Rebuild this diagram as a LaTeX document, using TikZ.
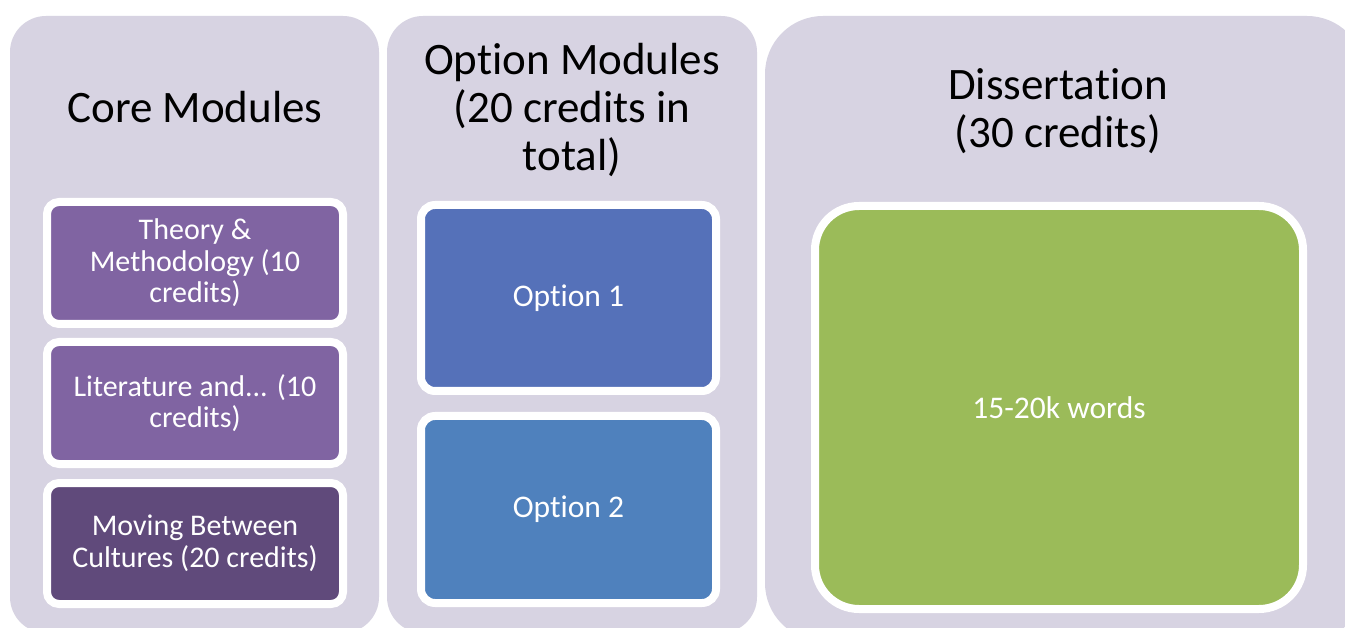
\documentclass[tikz,border=0pt]{standalone}
\usepackage{fontspec}
\setmainfont{Carlito}[Ligatures={NoCommon}]
\usetikzlibrary{shadows}
\definecolor{panelbg}{HTML}{D7D3E2}
\definecolor{purpleA}{HTML}{8064A2}
\definecolor{purpleB}{HTML}{604A7B}
\definecolor{blueA}{HTML}{5571B9}
\definecolor{blueB}{HTML}{4F81BD}
\definecolor{greenA}{HTML}{9BBB59}
\tikzset{
  panel/.style={fill=panelbg, draw=none, inner sep=0pt},
  titletext/.style={align=center, inner sep=0pt, text=black, font=\fontsize{45}{48}\selectfont},
  box/.style={draw=white, line width=8pt, rounded corners=14pt, inner sep=0pt, align=center,
    text=white, font=\fontsize{30}{31.5}\selectfont,
    drop shadow={shadow xshift=0pt, shadow yshift=-3pt, opacity=0.22, fill=black}},
}
\begin{document}
\begin{tikzpicture}[x=1pt, y=-1pt]
\useasboundingbox (0,0) rectangle (1345,628);
\clip (0,0) rectangle (1345,628);
\fill[white] (0,0) rectangle (1345,628);
% panels
\node[panel, rounded corners=36pt, minimum width=369pt, minimum height=617pt] (p1) at (194.5,324.5) {};
\node[panel, rounded corners=36pt, minimum width=370pt, minimum height=617pt] (p2) at (572,324.5) {};
\node[panel, rounded corners=58pt, minimum width=600pt, minimum height=625pt] (p3) at (1065,328.5) {};
% titles
\node[titletext] (t1) at (195,107) {Core Modules};
\node[titletext] (t2) at (572,110) {Option Modules\\(20 credits in\\total)};
\node[titletext] (t3) at (1058,111) {Dissertation\\(30 credits)};
% core boxes
\node[box, fill=purpleA, rounded corners=12pt, minimum width=296pt, minimum height=122pt] (c1) at (195,263)
  {Theory \&\\Methodology (10\\credits)};
\node[box, fill=purpleA, rounded corners=12pt, minimum width=296pt, minimum height=122pt] (c2) at (195,403)
  {Literature and... (10\\credits)};
\node[box, fill=purpleB, rounded corners=12pt, minimum width=296pt, minimum height=121pt] (c3) at (195,543.5)
  {Moving Between\\Cultures (20 credits)};
% option boxes
\node[box, fill=blueA, font=\fontsize{31.5}{33}\selectfont, minimum width=295pt, minimum height=186pt] (o1) at (568.5,298) {Option 1};
\node[box, fill=blueB, font=\fontsize{31.5}{33}\selectfont, minimum width=295pt, minimum height=187pt] (o2) at (568.5,509.5) {Option 2};
% dissertation box
\node[box, fill=greenA, rounded corners=44pt, font=\fontsize{31.5}{33}\selectfont, minimum width=488pt, minimum height=403pt] (d1) at (1059,407.5) {15-20k words};
\end{tikzpicture}
\end{document}
